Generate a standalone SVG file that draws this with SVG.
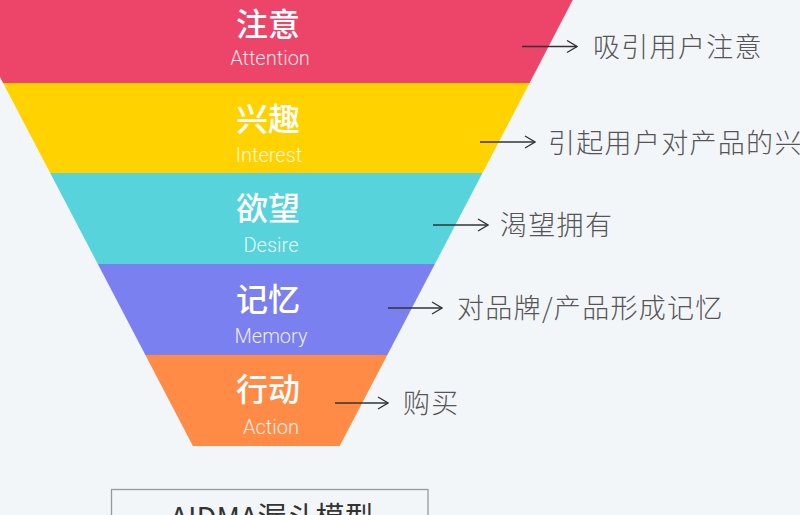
<svg xmlns="http://www.w3.org/2000/svg" width="800" height="515" viewBox="0 0 800 515">
<defs>
<marker id="arr" viewBox="0 0 12 14" refX="11" refY="7" markerWidth="12" markerHeight="14" markerUnits="userSpaceOnUse" orient="auto">
<path d="M1,1 L11,7 L1,13" fill="none" stroke="#333" stroke-width="1.3"/>
</marker>
<style>
.t{font-family:"Noto Sans CJK SC","Noto Sans",sans-serif;font-size:32px;font-weight:500;fill:#fff;text-anchor:middle}
.e{font-family:Roboto,"Liberation Sans",sans-serif;font-size:20px;font-weight:300;fill:#fff;fill-opacity:0.88;text-anchor:middle}
.d{font-family:"Noto Sans CJK SC","Noto Sans",sans-serif;font-size:27px;font-weight:300;fill:#555;letter-spacing:1.3px}
.c{fill:none;stroke:#333;stroke-width:1.3}
</style>
</defs>
<rect width="800" height="515" fill="#F3F6F9"/>
<g id="attention">
<polygon points="-48,-14 580,-14 529.6,83 3.1,83" fill="#EC4569"/>
<text class="t" x="268" y="36">注意</text>
<text class="e" x="270" y="65">Attention</text>
</g>
<g id="interest">
<polygon points="3.1,83 529.6,83 482.5,173 50.2,173" fill="#FFD200"/>
<text class="t" x="268" y="131">兴趣</text>
<text class="e" x="269" y="162">Interest</text>
</g>
<g id="desire">
<polygon points="50.2,173 482.5,173 434.9,264 97.8,264" fill="#57D3DB"/>
<text class="t" x="268" y="220">欲望</text>
<text class="e" x="271" y="252">Desire</text>
</g>
<g id="memory">
<polygon points="97.8,264 434.9,264 387.3,355 145.4,355" fill="#7A80EF"/>
<text class="t" x="268" y="311">记忆</text>
<text class="e" x="271" y="343">Memory</text>
</g>
<g id="action">
<polygon points="145.4,355 387.3,355 339.7,446 192.9,446" fill="#FF8B47"/>
<text class="t" x="268" y="401">行动</text>
<text class="e" x="271" y="434">Action</text>
</g>
<g id="connectors">
<line class="c" x1="522" y1="46.5" x2="577" y2="46.5" marker-end="url(#arr)"/>
<line class="c" x1="480" y1="142" x2="535" y2="142" marker-end="url(#arr)"/>
<line class="c" x1="433" y1="225" x2="488" y2="225" marker-end="url(#arr)"/>
<line class="c" x1="388" y1="308" x2="442" y2="308" marker-end="url(#arr)"/>
<line class="c" x1="335" y1="403" x2="388" y2="403" marker-end="url(#arr)"/>
</g>
<g id="descriptions">
<text class="d" x="593" y="57">吸引用户注意</text>
<text class="d" x="548" y="153">引起用户对产品的兴趣</text>
<text class="d" x="500" y="235">渴望拥有</text>
<text class="d" x="457" y="318">对品牌/产品形成记忆</text>
<text class="d" x="403" y="413">购买</text>
</g>
<g id="title">
<rect x="111.5" y="489.5" width="316.5" height="60" fill="none" stroke="#999" stroke-width="1.3"/>
<text x="272" y="528" font-family="'Noto Sans CJK SC','Noto Sans',sans-serif" font-size="29" fill="#333" text-anchor="middle">AIDMA漏斗模型</text>
</g>
</svg>
